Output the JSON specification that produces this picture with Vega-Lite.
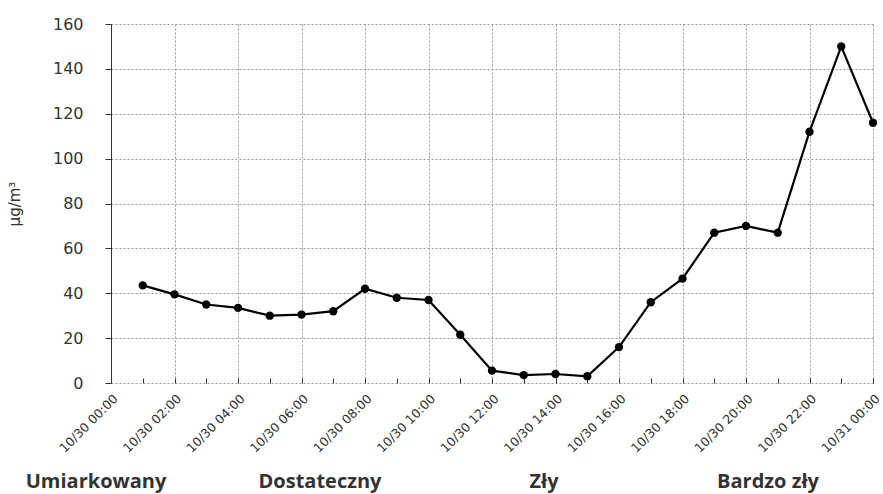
{
  "$schema": "https://vega.github.io/schema/vega-lite/v6.json",
  "padding": {"left": 7, "top": 16, "right": 5, "bottom": 0},
  "background": "white",
  "config": {"view": {"stroke": null}},
  "spacing": 7,
  "vconcat": [
    {
      "width": 762,
      "height": 359,
      "data": {"values": [
        {"time": "2024-10-30T01:00:00", "value": 43.5},
        {"time": "2024-10-30T02:00:00", "value": 39.5},
        {"time": "2024-10-30T03:00:00", "value": 35},
        {"time": "2024-10-30T04:00:00", "value": 33.5},
        {"time": "2024-10-30T05:00:00", "value": 30},
        {"time": "2024-10-30T06:00:00", "value": 30.5},
        {"time": "2024-10-30T07:00:00", "value": 32},
        {"time": "2024-10-30T08:00:00", "value": 42},
        {"time": "2024-10-30T09:00:00", "value": 38},
        {"time": "2024-10-30T10:00:00", "value": 37},
        {"time": "2024-10-30T11:00:00", "value": 21.5},
        {"time": "2024-10-30T12:00:00", "value": 5.5},
        {"time": "2024-10-30T13:00:00", "value": 3.5},
        {"time": "2024-10-30T14:00:00", "value": 4},
        {"time": "2024-10-30T15:00:00", "value": 3},
        {"time": "2024-10-30T16:00:00", "value": 16},
        {"time": "2024-10-30T17:00:00", "value": 36},
        {"time": "2024-10-30T18:00:00", "value": 46.5},
        {"time": "2024-10-30T19:00:00", "value": 67},
        {"time": "2024-10-30T20:00:00", "value": 70},
        {"time": "2024-10-30T21:00:00", "value": 67},
        {"time": "2024-10-30T22:00:00", "value": 112},
        {"time": "2024-10-30T23:00:00", "value": 150},
        {"time": "2024-10-31T00:00:00", "value": 116}
      ]},
      "resolve": {"axis": {"x": "independent"}},
      "layer": [
        {
          "mark": {"type": "line", "color": "black", "strokeWidth": 2.2, "point": {"filled": true, "size": 70, "color": "black"}},
          "encoding": {
            "x": {
              "field": "time", "type": "temporal",
              "scale": {"domain": [{"year": 2024, "month": 10, "date": 30, "hours": 0}, {"year": 2024, "month": 10, "date": 31, "hours": 0}], "nice": false},
              "axis": {
                "orient": "bottom",
                "title": null,
                "values": [
                  {"year": 2024, "month": 10, "date": 30, "hours": 0},
                  {"year": 2024, "month": 10, "date": 30, "hours": 2},
                  {"year": 2024, "month": 10, "date": 30, "hours": 4},
                  {"year": 2024, "month": 10, "date": 30, "hours": 6},
                  {"year": 2024, "month": 10, "date": 30, "hours": 8},
                  {"year": 2024, "month": 10, "date": 30, "hours": 10},
                  {"year": 2024, "month": 10, "date": 30, "hours": 12},
                  {"year": 2024, "month": 10, "date": 30, "hours": 14},
                  {"year": 2024, "month": 10, "date": 30, "hours": 16},
                  {"year": 2024, "month": 10, "date": 30, "hours": 18},
                  {"year": 2024, "month": 10, "date": 30, "hours": 20},
                  {"year": 2024, "month": 10, "date": 30, "hours": 22},
                  {"year": 2024, "month": 10, "date": 31, "hours": 0}
                ],
                "format": "%m/%d %H:%M",
                "labelAngle": -45,
                "labelFont": "DejaVu Sans",
                "labelFontSize": 12.5,
                "labelColor": "#333",
                "labelOverlap": false,
                "labelFlush": false,
                "labelPadding": 9,
                "domain": false,
                "ticks": false,
                "grid": true,
                "gridDash": [2, 2],
                "gridColor": "#999"
              }
            },
            "y": {
              "field": "value", "type": "quantitative",
              "scale": {"domain": [0, 160], "nice": false},
              "axis": {
                "title": "µg/m³",
                "titleFont": "DejaVu Sans",
                "titleFontSize": 15,
                "titleFontWeight": "normal",
                "titleColor": "#333",
                "titlePadding": 30,
                "values": [0, 20, 40, 60, 80, 100, 120, 140, 160],
                "labelFont": "DejaVu Sans",
                "labelFontSize": 16,
                "labelColor": "#333",
                "labelPadding": 22,
                "domainColor": "#333",
                "tickColor": "#333",
                "tickSize": 6,
                "grid": true,
                "gridDash": [2, 2],
                "gridColor": "#999"
              }
            }
          }
        },
        {
          "mark": {"type": "line", "opacity": 0},
          "encoding": {
            "x": {
              "field": "time", "type": "temporal",
              "axis": {
                "orient": "bottom",
                "title": null,
                "values": [
                  {"year": 2024, "month": 10, "date": 30, "hours": 1},
                  {"year": 2024, "month": 10, "date": 30, "hours": 2},
                  {"year": 2024, "month": 10, "date": 30, "hours": 3},
                  {"year": 2024, "month": 10, "date": 30, "hours": 4},
                  {"year": 2024, "month": 10, "date": 30, "hours": 5},
                  {"year": 2024, "month": 10, "date": 30, "hours": 6},
                  {"year": 2024, "month": 10, "date": 30, "hours": 7},
                  {"year": 2024, "month": 10, "date": 30, "hours": 8},
                  {"year": 2024, "month": 10, "date": 30, "hours": 9},
                  {"year": 2024, "month": 10, "date": 30, "hours": 10},
                  {"year": 2024, "month": 10, "date": 30, "hours": 11},
                  {"year": 2024, "month": 10, "date": 30, "hours": 12},
                  {"year": 2024, "month": 10, "date": 30, "hours": 13},
                  {"year": 2024, "month": 10, "date": 30, "hours": 14},
                  {"year": 2024, "month": 10, "date": 30, "hours": 15},
                  {"year": 2024, "month": 10, "date": 30, "hours": 16},
                  {"year": 2024, "month": 10, "date": 30, "hours": 17},
                  {"year": 2024, "month": 10, "date": 30, "hours": 18},
                  {"year": 2024, "month": 10, "date": 30, "hours": 19},
                  {"year": 2024, "month": 10, "date": 30, "hours": 20},
                  {"year": 2024, "month": 10, "date": 30, "hours": 21},
                  {"year": 2024, "month": 10, "date": 30, "hours": 22},
                  {"year": 2024, "month": 10, "date": 30, "hours": 23},
                  {"year": 2024, "month": 10, "date": 31, "hours": 0}
                ],
                "labels": false,
                "grid": false,
                "domain": false,
                "tickSize": 5,
                "tickColor": "#333",
                "offset": -5
              }
            },
            "y": {"field": "value", "type": "quantitative"}
          }
        }
      ]
    },
    {
      "width": 672,
      "height": 40,
      "data": {"values": [
        {"category": "Umiarkowany"},
        {"category": "Dostateczny"},
        {"category": "Zły"},
        {"category": "Bardzo zły"}
      ]},
      "mark": {"type": "text", "font": "Open Sans", "fontSize": 20, "fontWeight": "bold", "color": "#333", "align": "center", "baseline": "middle", "dx": -15},
      "encoding": {
        "x": {"field": "category", "type": "nominal", "sort": null, "scale": {"type": "point", "padding": 0}, "axis": null},
        "text": {"field": "category"}
      }
    }
  ]
}
